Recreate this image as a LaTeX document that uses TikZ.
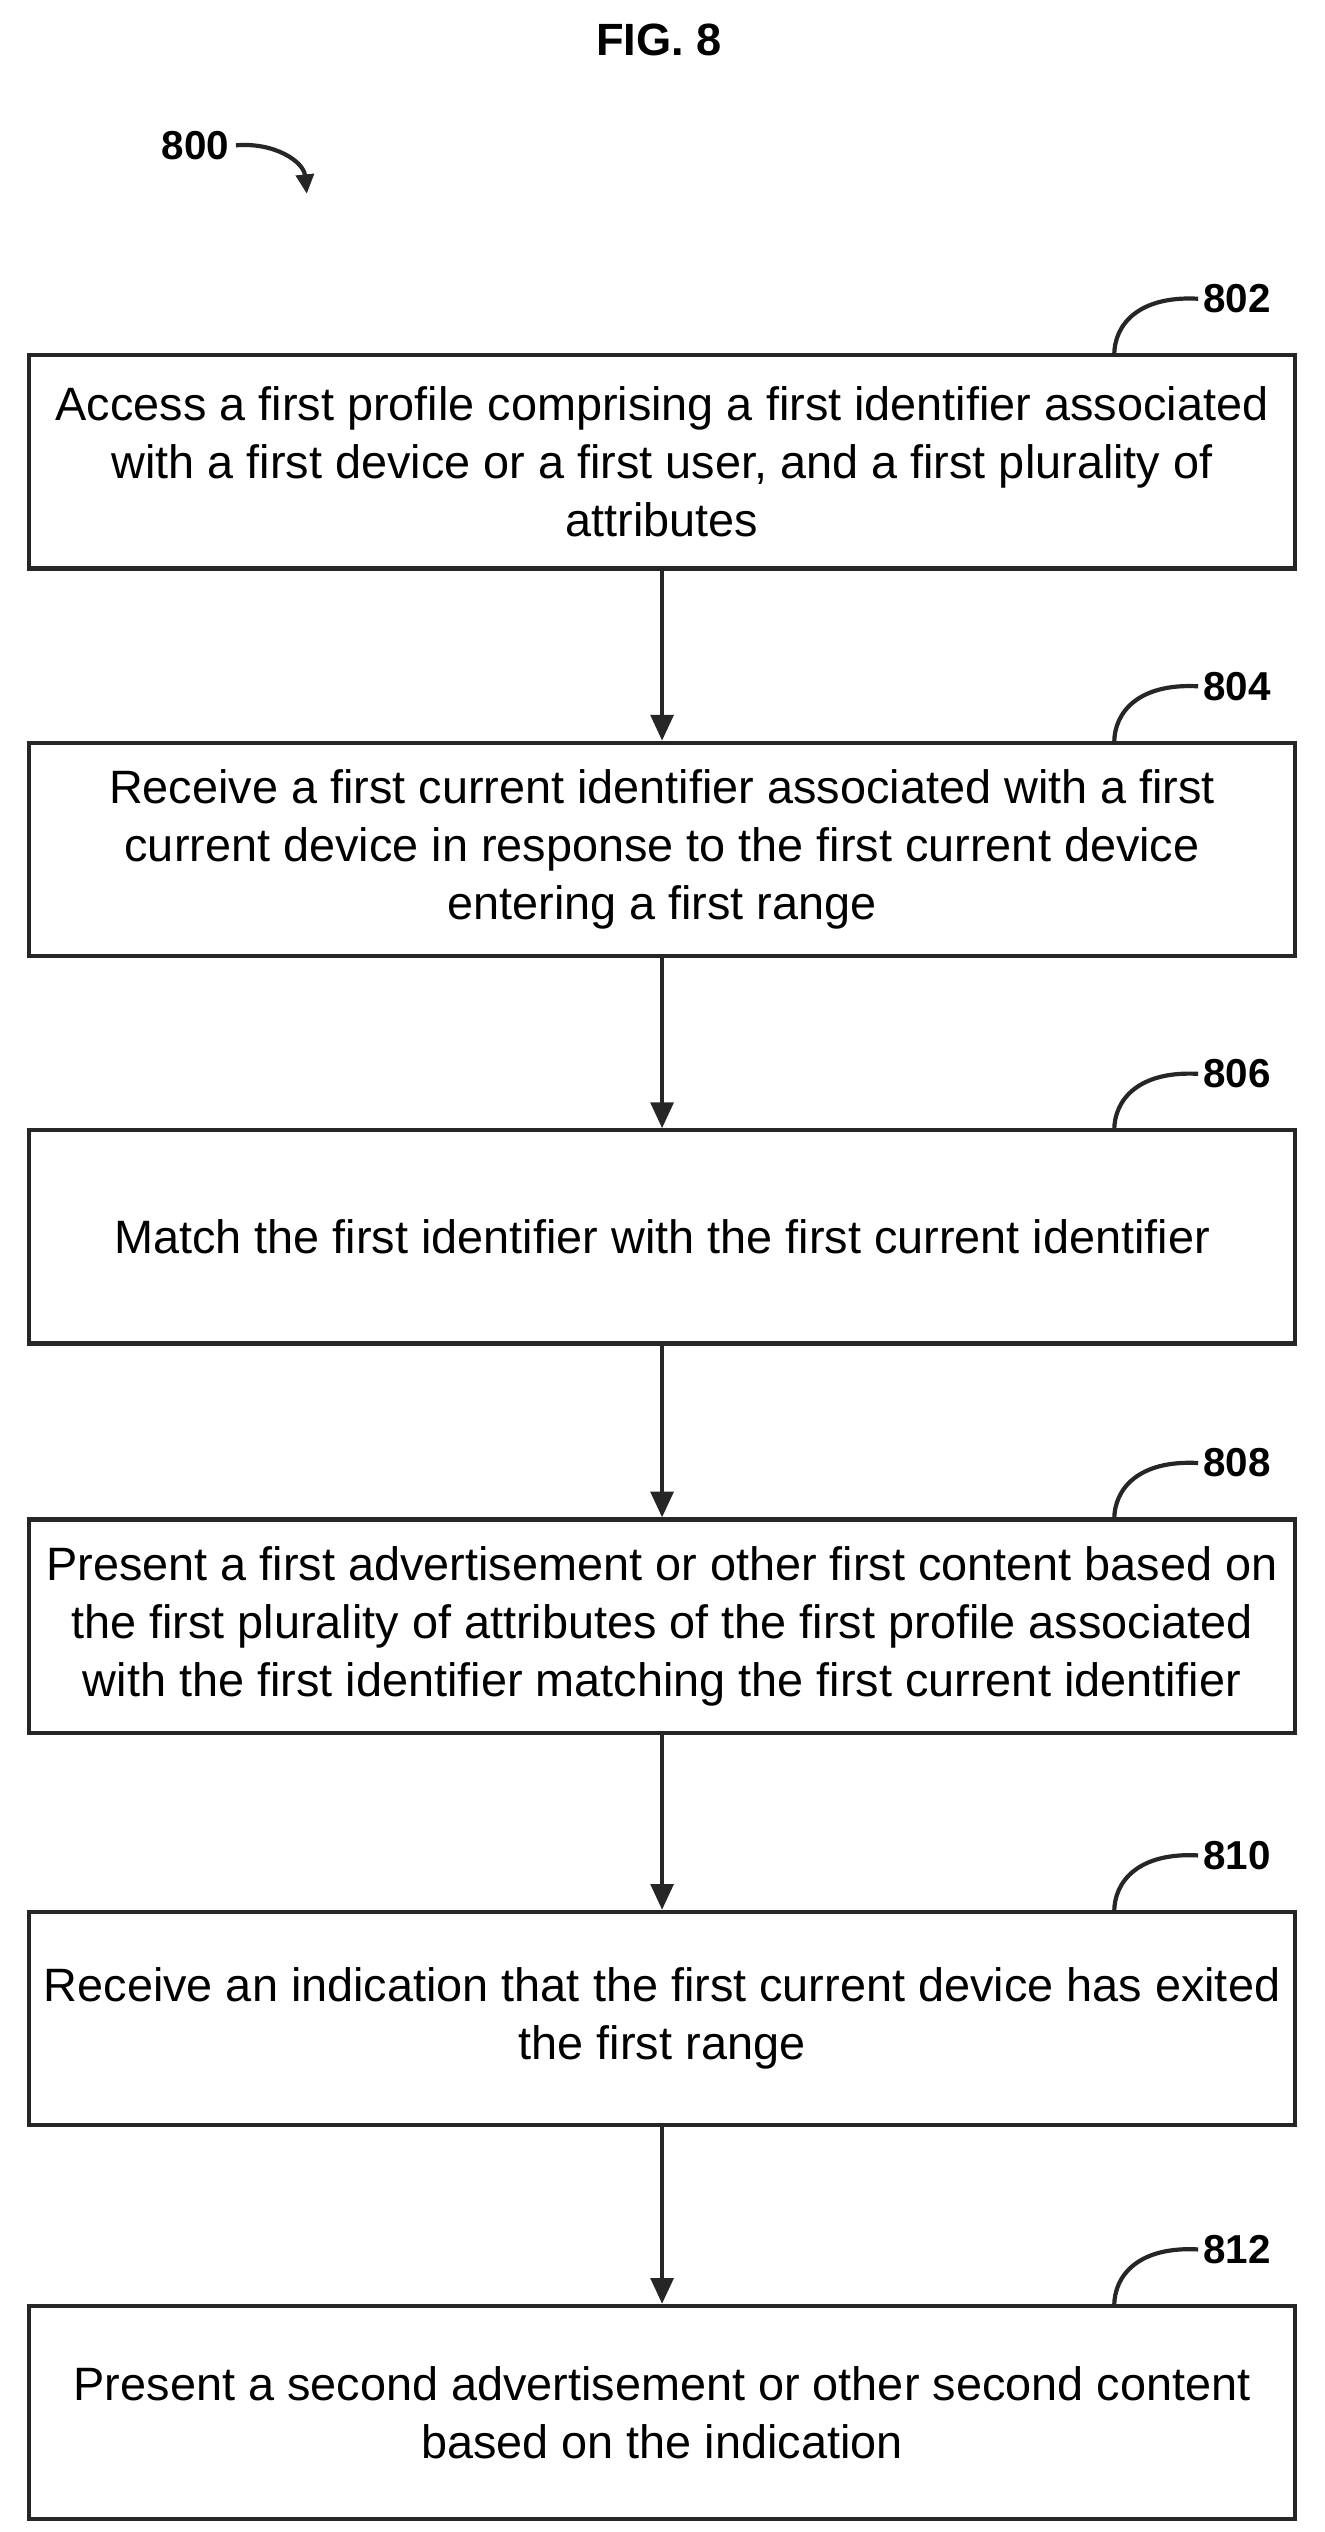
\documentclass[tikz,border=0pt]{standalone}
\usepackage{fontspec}
\setmainfont{Liberation Sans}
\usetikzlibrary{arrows.meta}
\begin{document}
\begin{tikzpicture}[x=1pt,y=-1pt,
  box/.style={draw=black!85,line width=2.6pt,minimum width=784pt,minimum height=132pt,align=center,font=\fontsize{29}{36}\selectfont,inner sep=0pt},
  lbl/.style={font=\bfseries\fontsize{25}{28}\selectfont,anchor=west,inner sep=0pt},
  flow/.style={draw=black!85,line width=2.6pt,-{Triangle[length=16pt,width=14pt]}},
  lead/.style={draw=black!85,line width=2.6pt}]
\useasboundingbox (0,0) rectangle (820,1568);
\node[font=\bfseries\fontsize{28}{30}\selectfont] (fig) at (408,25) {FIG. 8};
\node[lbl] (l800) at (100,90) {800};
\coordinate (a800) at (190,120);
\draw[lead,-{Triangle[length=12pt,width=11pt]}] (l800.east) ++(4,0) .. controls (170,88) and (188,100) .. (a800);
\foreach \n/\y/\t in {802/286/{Access a first profile comprising a first identifier associated\\with a first device or a first user, and a first plurality of\\attributes},
804/526/{Receive a first current identifier associated with a first\\current device in response to the first current device\\entering a first range},
806/766/{Match the first identifier with the first current identifier},
808/1007/{Present a first advertisement or other first content based on\\the first plurality of attributes of the first profile associated\\with the first identifier matching the first current identifier},
810/1250/{Receive an indication that the first current device has exited\\the first range},
812/1494/{Present a second advertisement or other second content\\based on the indication}}{
  \node[box] (b\n) at (410,\y) {\t};
  \node[lbl] (l\n) at (745,\y-101) {\n};
  \draw[lead] (l\n.west) ++(-3,0) .. controls (705,\y-103) and (690,\y-85) .. (690,\y-66);
}
\draw[flow] (b802) -- (b804);
\draw[flow] (b804) -- (b806);
\draw[flow] (b806) -- (b808);
\draw[flow] (b808) -- (b810);
\draw[flow] (b810) -- (b812);
\end{tikzpicture}
\end{document}
